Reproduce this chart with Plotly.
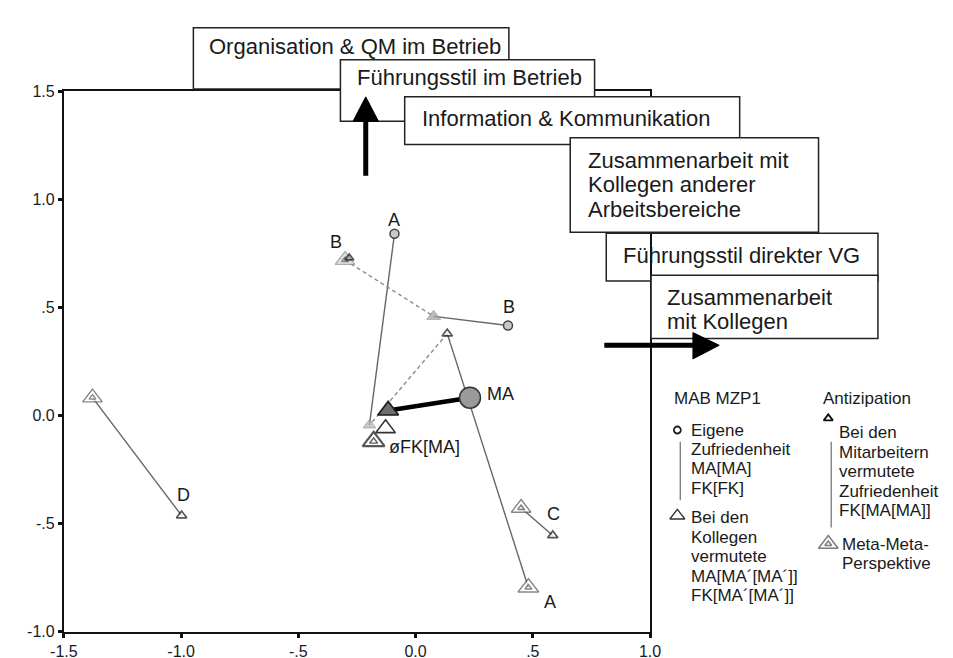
import plotly.graph_objects as go

W, H = 953, 658

# ---------------- data ----------------
# Eigene Zufriedenheit (small circles)
circ_lbl = ["A", "B"]
circ_x = [-0.09, 0.394]
circ_y = [0.84, 0.416]

# MA (large grey circle)
ma_x = [0.232]
ma_y = [0.082]

# Bei den Kollegen vermutete (grey filled triangles)
kol_x = [0.077, -0.197]
kol_y = [0.458, -0.045]

# mean FK (dark grey triangle)
fkm_x = [-0.117]
fkm_y = [0.023]

# open medium triangle
open_x = [-0.128]
open_y = [-0.06]

# Antizipation (small open triangles)
ant_x = [0.135, -0.283, 0.585, -0.998]
ant_y = [0.378, 0.728, -0.555, -0.463]

# Meta-Meta-Perspektive (double triangles)
meta_x = [0.481, -0.301, 0.45, -1.378, -0.179]
meta_y = [-0.796, 0.718, -0.428, 0.082, -0.12]

# axis ticks
tick_vals_x = [-1.5, -1.0, -0.5, 0.0, 0.5, 1.0]
tick_text_x = ["-1.5", "-1.0", "-.5", "0.0", ".5", "1.0"]
tick_vals_y = [-1.0, -0.5, 0.0, 0.5, 1.0, 1.5]
tick_text_y = ["-1.0", "-.5", "0.0", ".5", "1.0", "1.5"]

# ----------------------------------------------------------------
pts = {
    "circ": (circ_x, circ_y), "ma": (ma_x, ma_y), "kol": (kol_x, kol_y),
    "fkm": (fkm_x, fkm_y), "open": (open_x, open_y), "ant": (ant_x, ant_y),
    "meta": (meta_x, meta_y),
}
def P(g, i):
    return pts[g][0][i], pts[g][1][i]

segments = [
    (("circ", 0), ("kol", 1), "solid"),
    (("meta", 1), ("kol", 0), "dash"),
    (("kol", 0), ("circ", 1), "solid"),
    (("ant", 0), ("kol", 1), "dash"),
    (("ant", 0), ("meta", 0), "solid"),
    (("meta", 2), ("ant", 2), "solid"),
    (("meta", 3), ("ant", 3), "solid"),
]

FONT = "Liberation Sans, Arial, sans-serif"
TXT = "#1a1a1a"

fig = go.Figure()

for a, b, dash in segments:
    x0, y0 = P(*a)
    x1, y1 = P(*b)
    fig.add_trace(go.Scatter(
        x=[x0, x1], y=[y0, y1], mode="lines",
        line=dict(color="#666666" if dash == "solid" else "#8a8a8a",
                  width=1.4, dash="4px,3px" if dash == "dash" else "solid"),
        hoverinfo="skip", showlegend=False))

# thick line MA -> mean FK
fig.add_trace(go.Scatter(x=[ma_x[0], fkm_x[0]], y=[ma_y[0], fkm_y[0]], mode="lines",
                         line=dict(color="black", width=4.5), showlegend=False))

# markers
fig.add_trace(go.Scatter(x=circ_x, y=circ_y, mode="markers", showlegend=False,
                         marker=dict(symbol="circle", size=9, color="#c8c8c8",
                                     line=dict(color="#444", width=1.5))))
fig.add_trace(go.Scatter(x=ma_x, y=ma_y, mode="markers", showlegend=False,
                         marker=dict(symbol="circle", size=21, color="#9a9a9a",
                                     line=dict(color="#333", width=1.5))))
fig.add_trace(go.Scatter(x=kol_x, y=kol_y, mode="markers", showlegend=False,
                         marker=dict(symbol="triangle-up", size=[12, 11], color=["#a0a0a0", "#b4b4b4"],
                                     line=dict(color="#8a8a8a", width=1))))
fig.add_trace(go.Scatter(x=open_x, y=open_y, mode="markers", showlegend=False,
                         marker=dict(symbol="triangle-up", size=17, color="white",
                                     line=dict(color="#333", width=1.6))))
# meta outer / inner
fig.add_trace(go.Scatter(x=meta_x, y=meta_y, mode="markers", showlegend=False,
                         marker=dict(symbol="triangle-up", size=[18, 17, 17, 17, 19],
                                     color=["white", "#d8d8d8", "white", "white", "white"],
                                     line=dict(color=["#555", "#8a8a8a", "#555", "#555", "#111"],
                                               width=[1.4, 1.4, 1.4, 1.4, 2.2]))))
fig.add_trace(go.Scatter(x=meta_x, y=meta_y, mode="markers", showlegend=False,
                         marker=dict(symbol="triangle-up-open", size=[6, 6, 6, 6, 7],
                                     color=["#555", "#555", "#555", "#555", "#111"],
                                     line=dict(width=1.4))))
fig.add_trace(go.Scatter(x=fkm_x, y=fkm_y, mode="markers", showlegend=False,
                         marker=dict(symbol="triangle-up", size=18, color="#6e6e6e",
                                     line=dict(color="#1a1a1a", width=1.6))))
fig.add_trace(go.Scatter(x=ant_x, y=ant_y, mode="markers", showlegend=False,
                         marker=dict(symbol="triangle-up", size=[9, 8, 9, 9],
                                     color=["white", "#9a9a9a", "white", "white"],
                                     line=dict(color="#111", width=1.7))))

# point labels (data coords + pixel offset)
LF = 18
labels = [
    (circ_x[0], circ_y[0], circ_lbl[0], "center", 0, 14),
    (circ_x[1], circ_y[1], circ_lbl[1], "center", 1, 18),
    (meta_x[1], meta_y[1], "B", "center", -9, 18),
    (ma_x[0], ma_y[0], "MA", "left", 15, 4),
    (meta_x[4], meta_y[4], "øFK[MA]", "left", 13, -6),
    (ant_x[2], ant_y[2], "C", "center", 1, 21),
    (meta_x[0], meta_y[0], "A", "center", 22, -14),
    (ant_x[3], ant_y[3], "D", "center", 2, 21),
]
annotations = []
for x, y, t, xa, dx, dy in labels:
    annotations.append(dict(x=x, y=y, xref="x", yref="y", text=t, showarrow=False,
                            xanchor=xa, yanchor="middle", xshift=dx, yshift=dy,
                            font=dict(family=FONT, size=LF, color=TXT)))

# ---------------- decorations in pixel coordinates (x2/y2) ----------------
def box(x0, y0, x1, y1, fill="white"):
    return dict(type="rect", xref="x2", yref="y2", x0=x0, y0=y0, x1=x1, y1=y1,
                line=dict(color="#222", width=1.5), fillcolor=fill, layer="above")

shapes = [
    box(176, 12, 500, 75),
    box(327, 45, 588, 108),
    box(393, 83, 737, 132),
    box(563, 125, 818, 222),
    dict(type="rect", xref="x2", yref="y2", x0=600, y0=223, x1=879, y1=272,
         line=dict(color="#222", width=1.5), fillcolor="rgba(0,0,0,0)", layer="above"),
    box(646, 266, 879, 331),
    # up arrow
    dict(type="line", xref="x2", yref="y2", x0=353, y0=164, x1=353, y1=104,
         line=dict(color="black", width=5), layer="above"),
    dict(type="path", xref="x2", yref="y2", path="M 340,108 L 366,108 L 353,83 Z",
         fillcolor="black", line=dict(color="black", width=1), layer="above"),
    # right arrow
    dict(type="line", xref="x2", yref="y2", x0=598, y0=338, x1=692, y1=338,
         line=dict(color="black", width=5), layer="above"),
    dict(type="path", xref="x2", yref="y2", path="M 689,325 L 689,352 L 716,338 Z",
         fillcolor="black", line=dict(color="black", width=1), layer="above"),
    # legend vertical lines
    dict(type="line", xref="x2", yref="y2", x0=676, y0=437, x1=676, y1=497,
         line=dict(color="#777", width=1.3), layer="above"),
    dict(type="line", xref="x2", yref="y2", x0=831, y0=437, x1=831, y1=525,
         line=dict(color="#777", width=1.3), layer="above"),
]

def ptxt(x, y, t, size=17):
    annotations.append(dict(x=x, y=y, xref="x2", yref="y2", text=t, showarrow=False,
                            xanchor="left", yanchor="middle", borderpad=0,
                            font=dict(family=FONT, size=size, color=TXT)))

# box texts
BF = 22
ptxt(191, 31, "Organisation & QM im Betrieb", BF)
ptxt(343, 63, "Führungsstil im Betrieb", BF)
ptxt(410, 105, "Information & Kommunikation", BF)
ptxt(580, 148, "Zusammenarbeit mit", BF)
ptxt(580, 173, "Kollegen anderer", BF)
ptxt(580, 199, "Arbeitsbereiche", BF)
ptxt(616, 246, "Führungsstil direkter VG", BF)
ptxt(661, 289, "Zusammenarbeit", BF)
ptxt(661, 314, "mit Kollegen", BF)

# legend texts
ptxt(669, 393, "MAB MZP1")
for i, t in enumerate(["Eigene", "Zufriedenheit", "MA[MA]", "FK[FK]"]):
    ptxt(686, 425 + 20 * i, t)
for i, t in enumerate(["Bei den", "Kollegen", "vermutete", "MA[MA´[MA´]]", "FK[MA´[MA´]]"]):
    ptxt(686, 515 + 20 * i, t)
ptxt(822, 393, "Antizipation")
for i, t in enumerate(["Bei den", "Mitarbeitern", "vermutete", "Zufriedenheit", "FK[MA[MA]]"]):
    ptxt(838, 428 + 20 * i, t)
ptxt(841, 542, "Meta-Meta-")
ptxt(841, 562, "Perspektive")

# legend markers (pixel axes)
fig.add_trace(go.Scatter(x=[673], y=[425], xaxis="x2", yaxis="y2", mode="markers", showlegend=False,
                         marker=dict(symbol="circle", size=7, color="white", line=dict(color="#222", width=1.8))))
fig.add_trace(go.Scatter(x=[673], y=[513], xaxis="x2", yaxis="y2", mode="markers", showlegend=False,
                         marker=dict(symbol="triangle-up", size=13, color="white", line=dict(color="#333", width=1.3))))
fig.add_trace(go.Scatter(x=[828], y=[413], xaxis="x2", yaxis="y2", mode="markers", showlegend=False,
                         marker=dict(symbol="triangle-up", size=8, color="white", line=dict(color="#111", width=1.8))))
fig.add_trace(go.Scatter(x=[828, 828], y=[542, 542], xaxis="x2", yaxis="y2", mode="markers", showlegend=False,
                         marker=dict(symbol="triangle-up", size=[17, 6], color="rgba(0,0,0,0)",
                                     line=dict(color="#444", width=1.4))))

axis_font = dict(family=FONT, size=16, color=TXT)
fig.update_layout(
    width=W, height=H, margin=dict(l=0, r=0, t=0, b=0),
    paper_bgcolor="white", plot_bgcolor="rgba(0,0,0,0)",
    showlegend=False,
    xaxis=dict(domain=[43 / W, 645 / W], range=[-1.5, 1.0], showgrid=False, zeroline=False,
               showline=True, mirror=True, linecolor="#111", linewidth=2,
               ticks="outside", ticklen=4, tickwidth=3, tickcolor="#111",
               tickvals=tick_vals_x, ticktext=tick_text_x, tickfont=axis_font, anchor="y"),
    yaxis=dict(domain=[(H - 632) / H, (H - 77) / H], range=[-1.0, 1.5], showgrid=False, zeroline=False,
               showline=True, mirror=True, linecolor="#111", linewidth=2,
               ticks="outside", ticklen=4, tickwidth=3, tickcolor="#111",
               tickvals=tick_vals_y, ticktext=tick_text_y, tickfont=axis_font, anchor="x"),
    xaxis2=dict(domain=[0, 1], range=[0, W], visible=False, anchor="y2", fixedrange=True),
    yaxis2=dict(domain=[0, 1], range=[H, 0], visible=False, anchor="x2", fixedrange=True),
    shapes=shapes, annotations=annotations,
)

fig.write_html("out.html")
